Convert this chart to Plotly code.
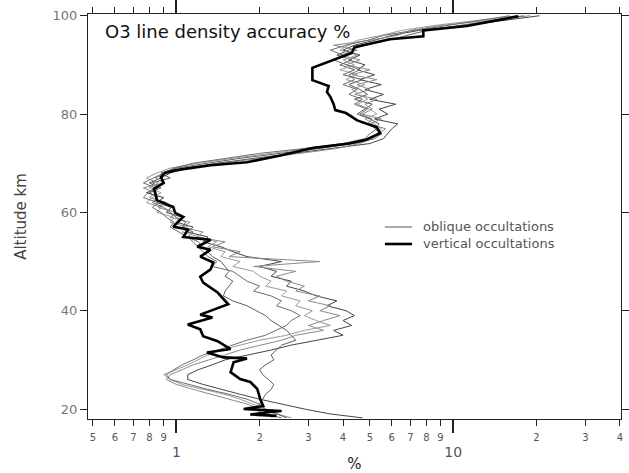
import plotly.graph_objects as go

# ---------------- data ----------------
obl_alt = [100, 99, 98, 97, 96, 95, 94, 93, 92, 91, 90, 89, 88, 87, 86, 85, 84, 83, 82, 81,
           80, 79, 78, 77, 76, 75, 74, 73, 72, 71, 70, 69, 68, 67, 66, 65, 64, 63, 62, 61,
           60, 59, 58, 57, 56, 55, 54, 53, 52, 51, 50, 49, 48, 47, 46, 45, 44, 43, 42, 41,
           40, 39, 38, 37, 36, 35, 34, 33, 32, 31, 30, 29, 28, 27, 26, 25, 24, 23, 22, 21,
           20, 19, 18.2]

obl_1 = [20.5, 15, 11, 7.5, 6.0, 5.2, 4.4, 4.0, 4.6, 4.2, 4.8, 4.5, 5.2, 4.6, 5.5, 4.8, 5.6, 5.0, 6.2, 5.4,
         5.8, 5.2, 6.3, 6.0, 5.8, 5.6, 5.0, 3.6, 2.6, 1.9, 1.4, 1.1, 0.95, 0.88, 0.80, 0.86, 0.78, 0.90, 0.85, 0.96,
         0.92, 1.05, 1.0, 1.15, 1.1, 1.3, 1.25, 1.45, 1.6, 1.8, 2.4, 2.0, 2.3, 2.2, 2.6, 2.5, 2.9, 3.2, 3.8, 3.5,
         4.1, 4.4, 4.0, 4.3, 3.7, 4.0, 3.2, 2.6, 2.2, 1.8, 1.5, 1.35, 1.2, 1.1, 1.1, 1.25, 1.45, 1.7, 2.0, 2.4,
         2.9, 3.6, 4.7]
obl_2 = [19, 13, 9, 7, 6.3, 5.0, 3.7, 4.5, 3.9, 4.6, 4.1, 5.0, 4.3, 5.3, 4.5, 5.0, 4.4, 5.3, 4.8, 5.1,
         4.7, 5.5, 5.0, 5.7, 5.4, 5.1, 4.6, 3.8, 2.8, 2.0, 1.45, 1.05, 0.92, 0.84, 0.90, 0.76, 0.84, 0.80, 0.92, 0.86,
         1.0, 0.95, 1.12, 1.05, 1.25, 1.18, 1.5, 1.35, 1.7, 1.55, 3.3, 1.9, 2.7, 2.3, 2.5, 2.9, 2.7, 3.3, 3.0, 3.6,
         3.3, 3.9, 3.4, 3.0, 3.4, 2.7, 2.4, 2.0, 1.7, 1.5, 1.3, 1.15, 1.05, 0.95, 0.92, 1.0, 1.15, 1.35, 1.55, 1.8,
         2.0, 2.3, 2.6]
obl_3 = [18, 14, 10.5, 8, 6.8, 5.8, 4.8, 4.2, 3.8, 4.3, 3.9, 4.4, 4.0, 4.7, 4.2, 4.6, 4.9, 4.4, 5.1, 4.8,
         4.5, 5.0, 5.4, 5.2, 5.5, 5.2, 4.4, 3.3, 2.4, 1.7, 1.3, 1.0, 0.88, 0.95, 0.82, 0.88, 0.80, 0.86, 0.82, 0.90,
         0.95, 1.0, 1.08, 1.05, 1.15, 1.1, 1.2, 1.25, 1.3, 1.35, 1.45, 1.5, 1.55, 1.5, 1.6, 1.55, 1.5, 1.48, 1.6, 1.8,
         1.95, 2.1, 2.2, 2.35, 2.5, 2.6, 2.7, 2.4, 2.3, 2.2, 2.25, 2.1, 2.0, 2.05, 2.15, 2.25, 2.2, 2.1, 2.05, 2.0,
         2.1, 2.3, 2.5]
obl_4 = [17, 12, 8.5, 6.5, 5.5, 4.5, 4.2, 3.9, 4.5, 4.0, 4.4, 3.9, 4.5, 4.1, 4.8, 4.3, 4.6, 4.9, 4.5, 5.0,
         5.3, 4.8, 5.2, 5.5, 5.3, 5.0, 4.2, 3.0, 2.2, 1.6, 1.2, 0.95, 0.85, 0.78, 0.86, 0.80, 0.88, 0.82, 0.78, 0.88,
         0.85, 0.98, 0.95, 1.1, 1.05, 1.2, 1.4, 1.3, 1.5, 1.45, 1.7, 1.6, 1.9, 2.0, 2.2, 2.1, 2.5, 2.4, 2.8, 2.7,
         3.1, 2.9, 3.2, 3.6, 2.9, 2.5, 2.0, 1.7, 1.45, 1.3, 1.2, 1.1, 1.0, 0.9, 0.95, 1.05, 1.25, 1.5, 1.7, 1.9,
         2.1, 2.3, 2.2]
obl_5 = [16, 12.5, 9.5, 7.2, 5.6, 4.9, 4.1, 3.6, 4.0, 3.7, 4.1, 4.6, 4.2, 4.4, 4.0, 4.5, 4.2, 4.7, 4.4, 4.9,
         4.6, 5.1, 4.9, 5.3, 5.0, 4.8, 4.0, 2.9, 2.0, 1.5, 1.15, 0.98, 0.9, 0.82, 0.76, 0.84, 0.79, 0.76, 0.86, 0.82,
         0.88, 0.92, 0.98, 0.95, 1.02, 1.1, 1.15, 1.2, 1.25, 1.3, 1.4, 1.35, 1.6, 1.7, 1.8, 2.0, 1.9, 2.2, 2.4, 2.3,
         2.6, 2.8, 2.6, 2.5, 2.3, 2.1, 1.8, 1.6, 1.4, 1.25, 1.15, 1.05, 0.98, 0.92, 0.95, 1.1, 1.3, 1.55, 1.8, 2.0,
         1.9, 2.1, 2.4]
oblique_series = [obl_1, obl_2, obl_3, obl_4, obl_5]

vert_alt = [99.9, 98.6, 97.9, 97.0, 95.8, 95.2, 93.6, 92.4, 91.0, 89.4, 86.9, 85.7, 84.5, 83.5, 82.0,
            80.8, 80.2, 78.7, 77.3, 76.1, 74.7, 74.0, 73.1, 71.6, 70.2, 69.6, 68.6, 68.0, 67.2, 66.0,
            64.8, 63.9, 62.5, 61.9, 61.1, 59.9, 59.1, 57.1, 56.5, 55.0, 54.4, 53.0, 52.4, 51.0, 49.8,
            48.4, 46.9, 45.7, 43.7, 41.3, 39.2, 38.6, 37.2, 36.2, 34.8, 33.8, 32.2, 31.5, 30.5, 30.3,
            29.5, 27.5, 26.1, 25.5, 24.1, 22.0, 20.6, 20.0, 19.6, 19.4, 18.9, 18.6]
vert_val = [17.2, 12.8, 11.2, 7.8, 7.8, 5.9, 4.4, 4.3, 3.7, 3.1, 3.1, 3.55, 3.5, 3.6, 3.7,
            3.75, 4.1, 4.5, 5.3, 5.45, 4.8, 4.2, 3.1, 2.4, 1.8, 1.33, 1.0, 0.91, 0.88, 0.90,
            0.83, 0.84, 0.85, 0.90, 0.975, 0.99, 1.06, 0.975, 1.10, 1.06, 1.33, 1.19, 1.33, 1.22, 1.36,
            1.33, 1.22, 1.25, 1.41, 1.54, 1.22, 1.35, 1.10, 1.22, 1.25, 1.41, 1.57, 1.29, 1.48, 1.80,
            1.61, 1.57, 1.70, 1.85, 1.96, 2.01, 2.06, 1.75, 2.4, 2.19, 1.85, 2.3]

MINOR = "<span style='font-size:10px'>{}</span>"
MAJOR = "<br><span style='font-size:14px'>{}</span>"
x_tickvals = [0.5, 0.6, 0.7, 0.8, 0.9, 1, 2, 3, 4, 5, 6, 7, 8, 9, 10, 20, 30, 40]
x_tickdigits = ["5", "6", "7", "8", "9", "1", "2", "3", "4", "5", "6", "7", "8", "9", "10",
                "2", "3", "4"]
x_major = [1, 10]
x_ticktext = [(MAJOR if v in x_major else MINOR).format(d) for v, d in zip(x_tickvals, x_tickdigits)]
y_tickvals = [20, 40, 60, 80, 100]

legend_labels = ["oblique occultations", "vertical occultations"]
title_text = "O3 line density accuracy %"

# ---------------- figure ----------------
FONT = "DejaVu Sans, Verdana, sans-serif"
obl_colors = ["#444444", "#8a8a8a", "#5e5e5e", "#9a9a9a", "#6e6e6e"]

fig = go.Figure()
for vals, col in zip(oblique_series, obl_colors):
    fig.add_trace(go.Scatter(x=vals, y=obl_alt, mode="lines",
                             line=dict(color=col, width=1), showlegend=False,
                             name=legend_labels[0]))
fig.add_trace(go.Scatter(x=vert_val, y=vert_alt, mode="lines", xaxis="x2",
                         line=dict(color="black", width=2.6), showlegend=False,
                         name=legend_labels[1]))

xr = [-0.319, 1.606]
fig.update_layout(
    width=629, height=473,
    margin=dict(l=88, r=8, t=14, b=54, autoexpand=False),
    paper_bgcolor="white", plot_bgcolor="white",
    font=dict(family=FONT, color="#555555"),
    xaxis=dict(type="log", range=xr, tickmode="array", tickvals=x_tickvals,
               ticktext=x_ticktext, tickangle=0, ticks="outside", ticklen=6, tickwidth=1,
               tickcolor="#222222", showline=True, linecolor="#222222", linewidth=1,
               mirror="ticks", showgrid=False, zeroline=False, automargin=False,
               tickfont=dict(size=12.5, color="#555555"),
               title=dict(text="%", font=dict(size=15, color="#222222"), standoff=8)),
    xaxis2=dict(type="log", range=xr, overlaying="x", side="bottom", tickmode="array",
                tickvals=x_major, ticks="outside", ticklen=13, tickwidth=1.5,
                tickcolor="#222222", showticklabels=False, showline=False,
                mirror="ticks", showgrid=False, zeroline=False, automargin=False),
    yaxis=dict(range=[17.97, 100.35], tickmode="array", tickvals=y_tickvals,
               ticks="outside", ticklen=7, tickwidth=1, tickcolor="#222222",
               showline=True, linecolor="#222222", linewidth=1, mirror="ticks",
               showgrid=False, zeroline=False, automargin=False,
               tickfont=dict(size=13, color="#777777"),
               title=dict(text="Altitude km", font=dict(size=15, color="#444444"), standoff=22)),
)

# title inside plot
fig.add_annotation(text=title_text, xref="paper", yref="paper", x=0.028, y=0.958,
                   xanchor="left", yanchor="middle", showarrow=False,
                   font=dict(size=18, color="#111111", family=FONT))

# legend drawn inside the plot (one text block, two sample lines)
leg_y = [0.4741, 0.4321]
leg_w = [1, 2.6]
leg_c = ["#555555", "black"]
for ly, lw, lc in zip(leg_y, leg_w, leg_c):
    fig.add_shape(type="line", xref="paper", yref="paper", x0=0.557, x1=0.608,
                  y0=ly, y1=ly, line=dict(color=lc, width=lw))
fig.add_annotation(text="<br>".join(legend_labels), xref="paper", yref="paper",
                   x=0.6266, y=sum(leg_y) / 2, xanchor="left", yanchor="middle",
                   align="left", showarrow=False, borderpad=0,
                   font=dict(size=13, color="#555555", family=FONT))

fig.write_html("out.html")
